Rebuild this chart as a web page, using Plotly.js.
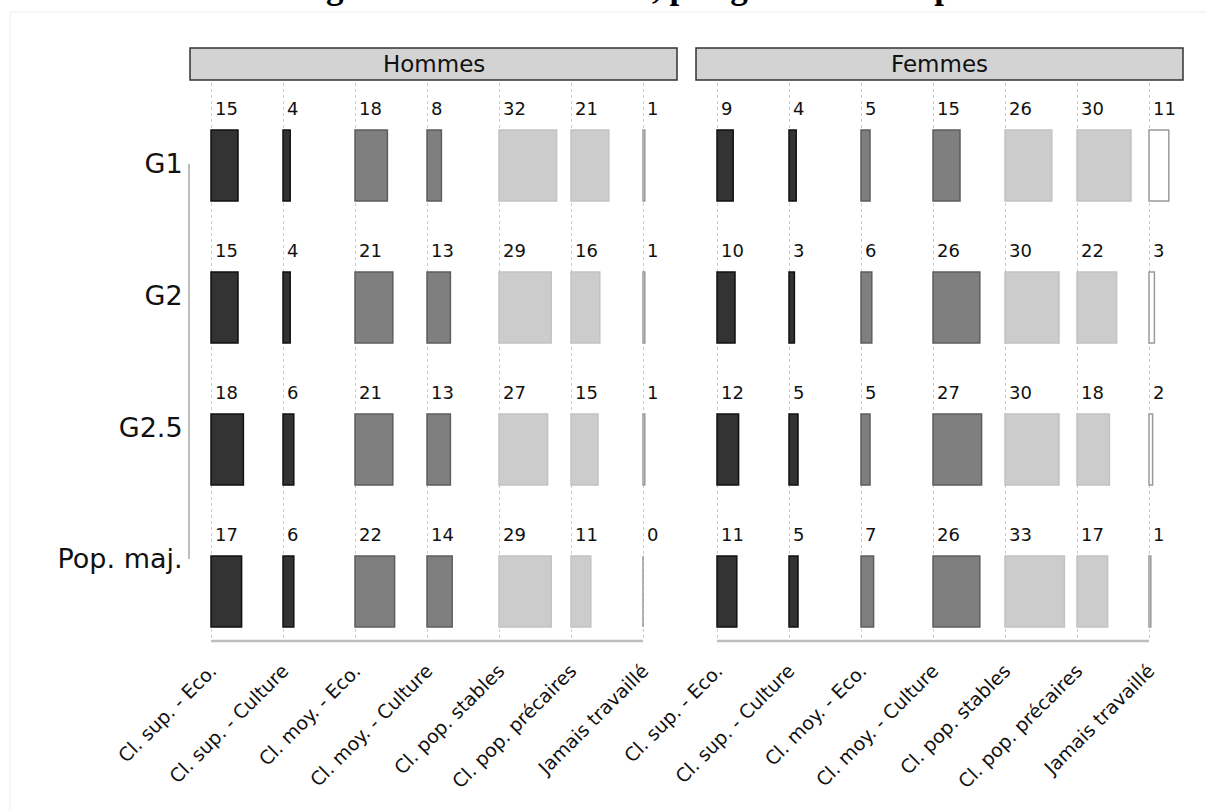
<!DOCTYPE html>
<html>
<head>
<meta charset="utf-8">
<script src="https://cdn.plot.ly/plotly-3.0.1.min.js"></script>
<style>html,body{margin:0;padding:0;background:#fff;}#chart{width:1206px;height:810px;}</style>
</head>
<body>
<div id="chart"></div>
<script>
// ---- data ----
const titleText = 'Figure 1 : Classe sociale, par génération et par sexe';
const generations = ['G1', 'G2', 'G2.5', 'Pop. maj.'];
const categories = ['Cl. sup. - Eco.', 'Cl. sup. - Culture', 'Cl. moy. - Eco.', 'Cl. moy. - Culture', 'Cl. pop. stables', 'Cl. pop. précaires', 'Jamais travaillé'];
const sexes = ['Hommes', 'Femmes'];
const hommesG1  = [15, 4, 18, 8, 32, 21, 1];
const hommesG2  = [15, 4, 21, 13, 29, 16, 1];
const hommesG25 = [18, 6, 21, 13, 27, 15, 1];
const hommesPop = [17, 6, 22, 14, 29, 11, 0];
const femmesG1  = [9, 4, 5, 15, 26, 30, 11];
const femmesG2  = [10, 3, 6, 26, 30, 22, 3];
const femmesG25 = [12, 5, 5, 27, 30, 18, 2];
const femmesPop = [11, 5, 7, 26, 33, 17, 1];

// ---- styles ----
const fillColors = ['#333333', '#333333', '#7f7f7f', '#7f7f7f', '#cccccc', '#cccccc', '#ffffff'];
const lineColors = ['#111111', '#111111', '#5e5e5e', '#5e5e5e', '#c2c2c2', '#c2c2c2', '#9a9a9a'];
const colStep = 40;      // data units between columns
const unitPx = 1.8;      // pixels per data unit
const W = 1206, H = 810;
const px = v => v / W;
const py = v => 1 - v / H;

const panels = [
  { rows: [hommesG1, hommesG2, hommesG25, hommesPop], xa: 'x', dom: [px(190), px(677)] },
  { rows: [femmesG1, femmesG2, femmesG25, femmesPop], xa: 'x2', dom: [px(696), px(1183)] }
];

const traces = [];
panels.forEach(p => {
  const bx = [], by = [], bb = [], fc = [], lc = [];
  const tx = [], ty = [], tt = [];
  p.rows.forEach((vals, r) => {
    vals.forEach((v, c) => {
      bx.push(v); by.push(r); bb.push(c * colStep);
      fc.push(fillColors[c]); lc.push(lineColors[c]);
      tx.push(c * colStep + 4 / unitPx); ty.push(r - 0.39); tt.push(String(v));
    });
  });
  traces.push({
    type: 'bar', orientation: 'h', x: bx, y: by, base: bb, width: 0.5,
    xaxis: p.xa, yaxis: 'y',
    marker: { color: fc, line: { color: lc, width: 1.5 } },
    hoverinfo: 'skip', showlegend: false
  });
  traces.push({
    type: 'scatter', mode: 'text', x: tx, y: ty, text: tt,
    textposition: 'middle right', cliponaxis: false,
    textfont: { family: 'DejaVu Sans', size: 18, color: '#111' },
    xaxis: p.xa, yaxis: 'y', hoverinfo: 'skip', showlegend: false
  });
});
// dummy trace so the generation axis is drawn
traces.push({ type: 'scatter', mode: 'markers', x: [0], y: [0], xaxis: 'x3', yaxis: 'y3',
  marker: { opacity: 0 }, hoverinfo: 'skip', showlegend: false });

const colVals = categories.map((_, i) => i * colStep);
const lastCol = (categories.length - 1) * colStep;
const xRange = [-21 / unitPx, lastCol + 34 / unitPx];

function xAxis(dom) {
  return {
    domain: dom, range: xRange, anchor: 'y',
    tickmode: 'array', tickvals: colVals, ticktext: categories, tickangle: -45,
    tickfont: { family: 'DejaVu Sans', size: 19, color: '#111' },
    ticks: '', ticklabelstandoff: 14, showline: false, zeroline: false,
    showgrid: true, gridcolor: '#cccccc', griddash: 'dot', gridwidth: 1,
    fixedrange: true
  };
}

const shapes = [
  { type: 'rect', xref: 'paper', yref: 'paper', x0: px(10), x1: 1.02, y0: -0.02, y1: py(12),
    line: { color: '#ececec', width: 1 }, fillcolor: 'rgba(0,0,0,0)', layer: 'below' }
];
const annotations = [
  { text: '<b>' + titleText + '</b>', xref: 'paper', yref: 'paper', x: px(676), y: py(7.5),
    xanchor: 'center', yanchor: 'bottom', showarrow: false,
    font: { family: 'Liberation Serif', size: 35, color: '#000' } }
];
panels.forEach((p, i) => {
  shapes.push({ type: 'line', xref: p.xa, yref: 'y domain', x0: 0, x1: lastCol, y0: 0, y1: 0,
    line: { color: '#bdbdbd', width: 2.5 } });
  shapes.push({ type: 'rect', xref: p.xa + ' domain', yref: 'paper', x0: 0, x1: 1, y0: py(80), y1: py(48),
    fillcolor: '#d3d3d3', line: { color: '#333', width: 1.5 } });
  annotations.push({ text: sexes[i], xref: p.xa + ' domain', yref: 'paper', x: 0.5, y: py(64),
    xanchor: 'center', yanchor: 'middle', showarrow: false,
    font: { family: 'DejaVu Sans', size: 23, color: '#111' } });
});

const layout = {
  width: W, height: H,
  margin: { l: 0, r: 0, t: 0, b: 0 },
  paper_bgcolor: '#fff', plot_bgcolor: 'rgba(0,0,0,0)',
  font: { family: 'DejaVu Sans', color: '#111' },
  barmode: 'overlay', showlegend: false,
  xaxis: xAxis(panels[0].dom),
  xaxis2: xAxis(panels[1].dom),
  yaxis: {
    domain: [py(641), py(83)], range: [(641 - 165.5) / 142, (83 - 165.5) / 142],
    anchor: 'x', visible: false, fixedrange: true
  },
  xaxis3: { domain: [0, 0.01], visible: false, anchor: 'y3', fixedrange: true },
  yaxis3: {
    domain: [py(559), py(164)], range: [generations.length - 1, 0],
    anchor: 'free', position: px(189), side: 'left',
    tickmode: 'array', tickvals: generations.map((_, i) => i), ticktext: generations,
    tickfont: { family: 'DejaVu Sans', size: 27, color: '#111' },
    ticks: '', ticklabelstandoff: 0, showline: true, linecolor: '#bdbdbd', linewidth: 2,
    showgrid: false, zeroline: false, fixedrange: true
  },
  shapes: shapes,
  annotations: annotations
};

Plotly.newPlot('chart', traces, layout, { displayModeBar: false, staticPlot: true });
</script>
</body>
</html>
